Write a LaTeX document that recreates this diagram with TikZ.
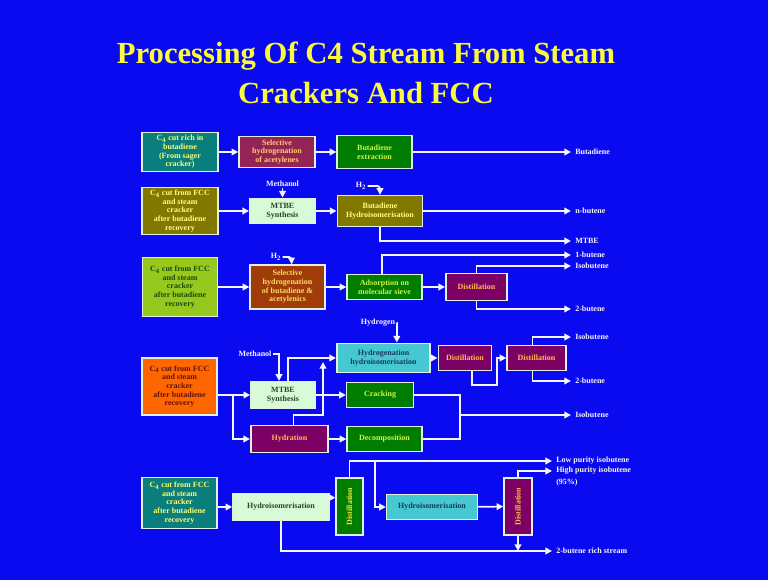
\documentclass[tikz,border=0pt]{standalone}
\usepackage{fontspec}
\setmainfont{Liberation Serif}
\usepackage{xcolor}
\usepackage{tikz}
\usetikzlibrary{arrows.meta,positioning,calc}
\definecolor{slideblue}{RGB}{10,10,240}
\definecolor{titleyellow}{RGB}{250,250,60}
\definecolor{boxedge}{RGB}{225,240,225}
\definecolor{flowline}{RGB}{245,245,255}
\definecolor{tealfill}{RGB}{10,125,125}
\definecolor{crimsonfill}{RGB}{150,35,85}
\definecolor{greenfill}{RGB}{0,125,0}
\definecolor{olivefill}{RGB}{130,120,0}
\definecolor{mintfill}{RGB}{215,250,215}
\definecolor{limefill}{RGB}{150,200,30}
\definecolor{brownfill}{RGB}{160,60,10}
\definecolor{orangefill}{RGB}{255,102,0}
\definecolor{cyanfill}{RGB}{70,200,210}
\definecolor{purplefill}{RGB}{125,0,100}
\newcommand{\boxfont}{\fontsize{6}{6.5}\selectfont\bfseries}
\newcommand{\cfour}{C\textsubscript{4}}
\tikzset{
  box/.style={rectangle, draw=boxedge, line width=1.2pt, align=center, inner sep=1pt, font=\boxfont},
  tealbox/.style={box, fill=tealfill, text={rgb,255:red,255;green,255;blue,110}},
  crimsonbox/.style={box, fill=crimsonfill, text={rgb,255:red,255;green,210;blue,100}},
  greenbox/.style={box, fill=greenfill, text={rgb,255:red,210;green,245;blue,70}},
  olivebox/.style={box, fill=olivefill, text={rgb,255:red,255;green,255;blue,130}},
  mintbox/.style={box, fill=mintfill, text={rgb,255:red,45;green,65;blue,45}},
  limebox/.style={box, fill=limefill, text={rgb,255:red,25;green,75;blue,15}},
  brownbox/.style={box, fill=brownfill, text={rgb,255:red,255;green,220;blue,100}},
  orangebox/.style={box, fill=orangefill, text={rgb,255:red,95;green,20;blue,10}},
  cyanbox/.style={box, fill=cyanfill, text={rgb,255:red,20;green,60;blue,90}},
  purplebox/.style={box, fill=purplefill, text={rgb,255:red,255;green,190;blue,70}},
  feedlabel/.style={inner sep=1pt, font=\boxfont, text=flowline},
  product/.style={anchor=west, inner xsep=3pt, inner ysep=0pt, font=\boxfont, text=flowline},
  arrow/.style={-{Triangle[length=5pt,width=5pt]}, line width=1.3pt, draw=flowline},
  line/.style={line width=1.3pt, draw=flowline},
  title/.style={align=center, font=\fontsize{23}{30}\selectfont\bfseries, text=titleyellow},
}

\begin{document}
\begin{tikzpicture}[x=0.75pt, y=-0.75pt]
  \fill[slideblue] (0,0) rectangle (768,580);

  \node[title] (title) at (366,73) {Processing Of C4 Stream From Steam\\Crackers And FCC};

  % Row 1: rich cut
  \node[tealbox, minimum width=57pt, minimum height=29pt] (feedA) at (180,152) {\cfour{} cut rich in\\butadiene\\(From sager\\cracker)};
  \node[crimsonbox, minimum width=57pt, minimum height=23pt] (selA) at (277,152) {Selective\\hydrogenation\\of acetylenes};
  \node[greenbox, minimum width=56pt, minimum height=25pt] (extr) at (374.5,152) {Butadiene\\extraction};
  \node[product] (pButa) at (571,152) {Butadiene};

  \draw[arrow] (feedA) -- (selA);
  \draw[arrow] (selA) -- (extr);
  \draw[arrow] (extr) -- (pButa.west);

  % Row 2: MTBE route
  \node[olivebox, minimum width=57pt, minimum height=35pt] (feedB) at (180,211) {\cfour{} cut from FCC\\and steam\\cracker\\after butadiene\\recovery};
  \node[mintbox, minimum width=49pt, minimum height=19pt] (mtbeA) at (282.5,211) {MTBE\\Synthesis};
  \node[olivebox, minimum width=64pt, minimum height=23pt] (isoA) at (380,211) {Butadiene\\Hydroisomerisation};
  \node[feedlabel] (methA) at (282.5,184) {Methanol};
  \node[feedlabel] (htwoA) at (361,186) {H\textsubscript{2}};
  \node[product] (pNbut) at (571,211) {n-butene};
  \node[product] (pMtbe) at (571,241) {MTBE};

  \draw[arrow] (feedB) -- (mtbeA);
  \draw[arrow] (methA) -- (mtbeA);
  \draw[arrow] (mtbeA) -- (isoA);
  \draw[arrow, rounded corners=2pt] (htwoA) -| (isoA.north);
  \draw[arrow] (isoA) -- (pNbut.west);
  \draw[arrow] (isoA.south) |- (pMtbe.west);

  % Row 3: adsorption route
  \node[limebox, minimum width=56pt, minimum height=44pt] (feedC) at (180,287) {\cfour{} cut from FCC\\and steam\\cracker\\after butadiene\\recovery};
  \node[brownbox, minimum width=56pt, minimum height=33pt] (selB) at (287.5,287) {Selective\\hydrogenation\\of butadiene \&\\acetylenics};
  \node[greenbox, minimum width=56pt, minimum height=19pt] (sieve) at (384.5,287) {Adsorption on\\molecular sieve};
  \node[purplebox, minimum width=46pt, minimum height=20pt] (distA) at (476.5,287) {Distillation};
  \node[feedlabel] (htwoB) at (276,257) {H\textsubscript{2}};
  \node[product] (p1but) at (571,255) {1-butene};
  \node[product] (pIsoA) at (571,266) {Isobutene};
  \node[product] (p2butA) at (571,309) {2-butene};

  \draw[arrow] (feedC) -- (selB);
  \draw[arrow] (selB) -- (sieve);
  \draw[arrow] (sieve) -- (distA);
  \draw[arrow, rounded corners=2pt] (htwoB) -| ([xshift=3pt]selB.north);
  \draw[arrow] ([xshift=-2pt]sieve.north) |- (p1but.west);
  \draw[arrow] (distA.north) |- (pIsoA.west);
  \draw[arrow] (distA.south) |- (p2butA.west);

  % Row 4: MTBE / hydration route
  \node[orangebox, minimum width=56pt, minimum height=43pt] (feedD) at (179.5,386.5) {\cfour{} cut from FCC\\and steam\\cracker\\after butadiene\\recovery};
  \node[mintbox, minimum width=48pt, minimum height=20pt] (mtbeB) at (283,395) {MTBE\\Synthesis};
  \node[cyanbox, minimum width=70pt, minimum height=22pt] (hydro) at (383.5,358) {Hydrogenation\\hydroisomerisation};
  \node[greenbox, minimum width=50pt, minimum height=19pt] (crack) at (380,395) {Cracking};
  \node[purplebox, minimum width=58pt, minimum height=20pt] (hydrat) at (289.5,439) {Hydration};
  \node[greenbox, minimum width=56pt, minimum height=19pt] (decomp) at (384.5,439) {Decomposition};
  \node[purplebox, minimum width=40pt, minimum height=19pt] (distB) at (465,358) {Distillation};
  \node[purplebox, minimum width=44pt, minimum height=19pt] (distC) at (536.5,358) {Distillation};
  \node[feedlabel] (hydrogen) at (378,323) {Hydrogen};
  \node[feedlabel] (methB) at (255,354) {Methanol};
  \node[product] (pIsoB) at (571,337) {Isobutene};
  \node[product] (p2butB) at (571,381) {2-butene};
  \node[product] (pIsoC) at (571,415) {Isobutene};
  \coordinate (splitD) at (233,395);
  \coordinate (hydbend) at (323,415);
  \coordinate (hydmerge) at (323,362);
  \coordinate (joinC) at (460,415);
  \coordinate (distlow) at (497,385);

  \draw[line] (feedD.east |- mtbeB) -- (splitD);
  \draw[arrow] (splitD) -- (mtbeB);
  \draw[arrow] (splitD) |- (hydrat);
  \draw[arrow] (methB) -| ([xshift=-3pt]mtbeB.north);
  \draw[arrow] ([xshift=4pt]mtbeB.north) |- (hydro);
  \draw[arrow] ([xshift=3pt]hydrat.north) |- (hydbend) -- (hydmerge);
  \draw[arrow] (hydrogen) -| ([xshift=10pt]hydro.north);
  \draw[arrow] (mtbeB) -- (crack);
  \draw[arrow] (hydrat) -- (decomp);
  \draw[line] (crack) -| (joinC) |- (decomp);
  \draw[arrow] (joinC) -- (pIsoC.west);
  \draw[arrow] (hydro) -- (distB);
  \draw[arrow] ([xshift=5pt]distB.south) |- (distlow) |- (distC);
  \draw[arrow] ([xshift=-3pt]distC.north) |- (pIsoB.west);
  \draw[arrow] ([xshift=-3pt]distC.south) |- (p2butB.west);

  % Row 5: hydroisomerisation route
  \node[tealbox, minimum width=56pt, minimum height=38pt] (feedE) at (179.5,503) {\cfour{} cut from FCC\\and steam\\cracker\\after butadiene\\recovery};
  \node[mintbox, minimum width=72pt, minimum height=20pt] (hyisoA) at (281,507) {Hydroisomerisation};
  \node[greenbox, minimum width=20pt, minimum height=43pt, text={rgb,255:red,235;green,235;blue,60}] (distD) at (349.5,506.5) {\rotatebox{90}{Distillation}};
  \node[cyanbox, minimum width=68pt, minimum height=19pt] (hyisoB) at (432,507) {Hydroisomerisation};
  \node[purplebox, minimum width=21pt, minimum height=43pt] (distE) at (518,506.5) {\rotatebox{90}{Distillation}};
  \node[product] (pLow) at (552,461) {Low purity isobutene};
  \node[product, text={rgb,255:red,255;green,255;blue,205}] (pHigh) at (552,471) {High purity isobutene};
  \node[product] (pPct) at (552,483) {(95\%)};
  \node[product] (pRich) at (552,551) {2-butene rich stream};
  \coordinate (splitE) at (375,461);

  \draw[arrow] (feedE.east |- hyisoA) -- (hyisoA);
  \draw[arrow] ([yshift=7pt]hyisoA.east) -- ([yshift=7pt]hyisoA.east -| distD.west);
  \draw[arrow] (distD.north) |- (pLow.west);
  \draw[arrow] (splitE) |- (hyisoB);
  \draw[arrow] (hyisoB) -- (distE);
  \draw[arrow] (distE.north) |- (pHigh.west);
  \draw[arrow] (distE.south) -- (distE.south |- pRich.west);
  \draw[arrow] (hyisoA.south) |- (pRich.west);

\end{tikzpicture}
\end{document}
